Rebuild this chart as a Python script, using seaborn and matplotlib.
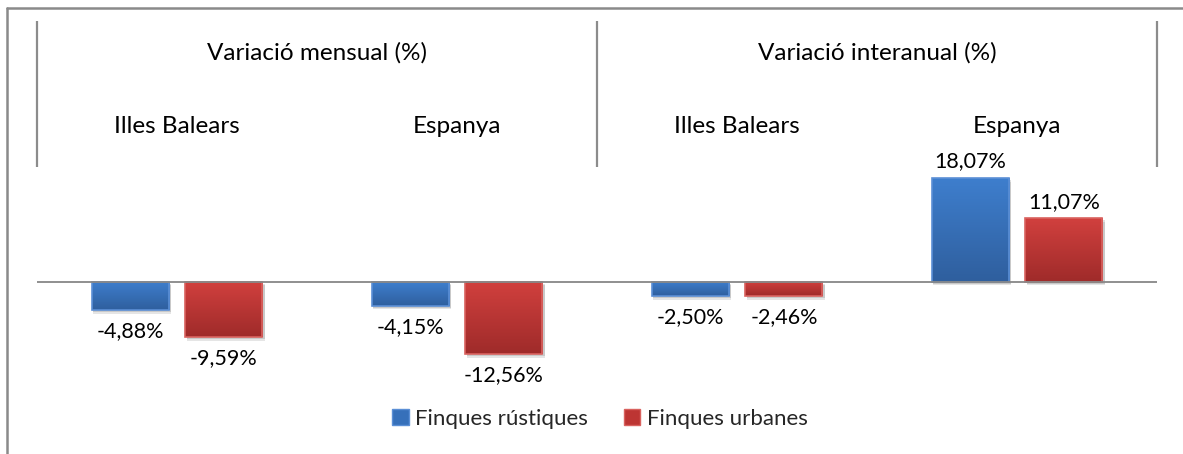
import numpy as np
import pandas as pd
import seaborn as sns
import matplotlib.pyplot as plt
from matplotlib.colors import LinearSegmentedColormap
from matplotlib.patches import Rectangle
from matplotlib.lines import Line2D

groups = ["Variació mensual (%)", "Variació interanual (%)"]
regions = ["Illes Balears", "Espanya", "Illes Balears", "Espanya"]
series = ["Finques rústiques", "Finques urbanes"]
rustiques = [-4.88, -4.15, -2.50, 18.07]
urbanes = [-9.59, -12.56, -2.46, 11.07]

BLUE_TOP, BLUE_BOT, BLUE_EDGE = "#3e7ecd", "#2f5f9e", "#5b8fd6"
RED_TOP, RED_BOT, RED_EDGE = "#d1403e", "#9f2b2a", "#d9625f"

W, H = 1183, 454
PX0, PX1 = 37, 1157       # plot left/right in pixels
PY_TOP, PY_BOT = 21, 445  # axes top/bottom in pixels
PY_ZERO = 282
PX_PER_PCT = 5.75


def fmt(v):
    return f"{v:.2f}".replace(".", ",") + "%"


def main():
    sns.set_theme(style="white")
    plt.rcParams["font.family"] = ["Lato", "DejaVu Sans"]

    keys = [f"{g}|{r}|{i}" for i, (g, r) in
            enumerate(zip([groups[0]] * 2 + [groups[1]] * 2, regions))]
    df = pd.DataFrame({
        "key": keys * 2,
        "serie": [series[0]] * 4 + [series[1]] * 4,
        "value": rustiques + urbanes,
    })

    fig = plt.figure(figsize=(W / 100, H / 100), dpi=100)
    ax = fig.add_axes([PX0 / W, 1 - PY_BOT / H, (PX1 - PX0) / W, (PY_BOT - PY_TOP) / H])

    sns.barplot(data=df, x="key", y="value", hue="serie", order=keys,
                hue_order=series, palette=[BLUE_TOP, RED_TOP],
                width=0.671, gap=0.18, legend=False, ax=ax, zorder=3)

    ymax = (PY_ZERO - PY_TOP) / PX_PER_PCT
    ymin = -(PY_BOT - PY_ZERO) / PX_PER_PCT

    cmaps = [LinearSegmentedColormap.from_list("b", [BLUE_BOT, BLUE_TOP]),
             LinearSegmentedColormap.from_list("r", [RED_BOT, RED_TOP])]
    edges = [BLUE_EDGE, RED_EDGE]
    grad = np.linspace(0, 1, 64).reshape(-1, 1)

    for k, cont in enumerate(ax.containers):
        for bar, val in zip(cont, df[df["serie"] == series[k]]["value"]):
            x0, w = bar.get_x(), bar.get_width()
            y0, h = bar.get_y(), bar.get_height()
            lo, hi = min(y0, y0 + h), max(y0, y0 + h)
            # soft shadow
            for s, a in [(0.6, 0.10), (0.35, 0.12)]:
                ax.add_patch(Rectangle((x0 + 0.006, lo - s), w + 0.004, hi - lo,
                                       color="#000000", alpha=a, lw=0, zorder=2))
            bar.set_facecolor("none")
            bar.set_edgecolor(edges[k])
            bar.set_linewidth(1.2)
            im = ax.imshow(grad, extent=(x0, x0 + w, lo, hi), origin="lower",
                           cmap=cmaps[k], aspect="auto", zorder=2.5)
            im.set_clip_path(bar)
            yt = hi if val > 0 else lo
            off = 12 if val > 0 else -15
            ax.annotate(fmt(val), (x0 + w / 2, yt), xytext=(0, off),
                        textcoords="offset points", ha="center", va="center",
                        fontsize=15.5, color="#000000", zorder=5)

    ax.set_xlim(-0.5, 3.5)
    ax.set_ylim(ymin, ymax)
    ax.axhline(0, color="#878787", lw=1.3, zorder=4)

    # multi-level category axis on top
    ytr = ax.get_xaxis_transform()
    frac_top = 1.0
    frac_bot = (PY_BOT - 167) / (PY_BOT - PY_TOP)
    ax.vlines([-0.5, 1.5, 3.5], frac_bot, frac_top, transform=ytr,
              color="#8c8c8c", lw=1.6, clip_on=False)
    frac_reg = (PY_BOT - 127) / (PY_BOT - PY_TOP)
    frac_grp = (PY_BOT - 53) / (PY_BOT - PY_TOP)
    for i, r in enumerate(regions):
        ax.text(i, frac_reg, r, transform=ytr, ha="center", va="center",
                fontsize=17.5, color="#000000")
    for j, g in enumerate(groups):
        ax.text(0.5 + 2 * j, frac_grp, g, transform=ytr, ha="center",
                va="center", fontsize=17.5, color="#000000")

    ax.set_xticks([])
    ax.set_yticks([])
    ax.set_xlabel("")
    ax.set_ylabel("")
    for sp in ax.spines.values():
        sp.set_visible(False)

    # outer chart border (left and top visible)
    fig.add_artist(Line2D([7 / W, 7 / W], [0, 1 - 8 / H], color="#8a8a8a",
                          lw=1.8, transform=fig.transFigure))
    fig.add_artist(Line2D([7 / W, 1], [1 - 8 / H, 1 - 8 / H], color="#8a8a8a",
                          lw=1.8, transform=fig.transFigure))

    handles = [Rectangle((0, 0), 1, 1, facecolor=c, edgecolor=e, lw=1)
               for c, e in [("#3670ba", BLUE_EDGE), ("#bd3533", RED_EDGE)]]
    fig.legend(handles, series, loc="center", bbox_to_anchor=(600 / W, 1 - 419 / H),
               ncol=2, frameon=False, fontsize=16, handlelength=0.75,
               handleheight=0.75, handletextpad=0.3, columnspacing=1.6)

    fig.savefig("out.png", dpi=100)


if __name__ == "__main__":
    main()
